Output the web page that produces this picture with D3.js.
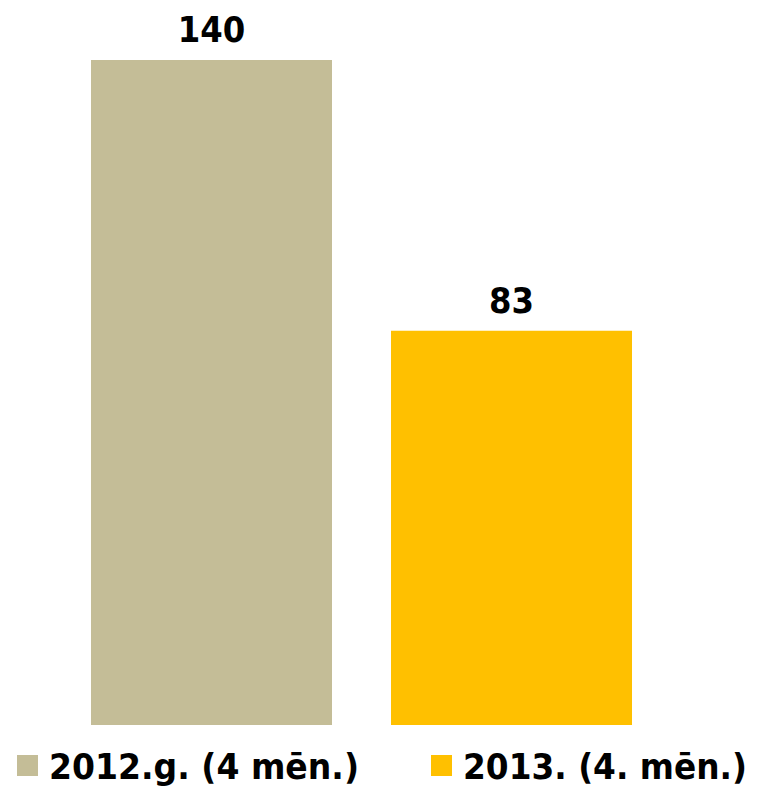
<!DOCTYPE html>
<html>
<head>
<meta charset="utf-8">
<script src="https://cdn.jsdelivr.net/npm/d3@7"></script>
<style>
    body { margin: 0; background: #fff; }
    text { font-family: "DejaVu Sans", Verdana, sans-serif; font-weight: bold; }
</style>
</head>
<body>
<div id="chart"></div>
<script>
const categories = ["2012.g. (4 mēn.)", "2013. (4. mēn.)"];
const values = [140, 83];
const colors = ["#C4BD97", "#FFC000"];

const width = 759;
const height = 788;

const svg = d3.select("#chart")
    .append("svg")
    .attr("width", width)
    .attr("height", height);

// x scale for the two bars
const xScale = d3.scaleBand()
    .domain(categories)
    .range([61.5, 661.5])
    .paddingInner(0.1967)
    .paddingOuter(0.0983);

const yScale = d3.scaleLinear()
    .domain([0, 140])
    .range([725, 60]);

// bars
svg.selectAll("rect.bar")
    .data(categories)
    .enter()
    .append("rect")
    .attr("class", "bar")
    .attr("x", d => xScale(d))
    .attr("y", (d, i) => yScale(values[i]))
    .attr("width", xScale.bandwidth())
    .attr("height", (d, i) => yScale(0) - yScale(values[i]))
    .attr("fill", (d, i) => colors[i]);

// value labels (font is a bit narrower than DejaVu in the original)
svg.selectAll("text.value")
    .data(categories)
    .enter()
    .append("text")
    .attr("class", "value")
    .attr("x", d => xScale(d) + xScale.bandwidth() / 2)
    .attr("y", (d, i) => yScale(values[i]) - 18)
    .attr("text-anchor", "middle")
    .attr("textLength", (d, i) => String(values[i]).length * 22.5)
    .attr("lengthAdjust", "spacingAndGlyphs")
    .style("font-size", "36px")
    .text((d, i) => values[i]);

// legend
const legendX = [17, 431];
const legendTextWidth = [310, 284];
const legend = svg.selectAll(".legend")
    .data(categories)
    .enter()
    .append("g")
    .attr("class", "legend")
    .attr("transform", (d, i) => `translate(${legendX[i]}, 755)`);

legend.append("rect")
    .attr("width", 21)
    .attr("height", 21)
    .attr("fill", (d, i) => colors[i]);

legend.append("text")
    .attr("x", 32)
    .attr("y", 24)
    .attr("textLength", (d, i) => legendTextWidth[i])
    .attr("lengthAdjust", "spacingAndGlyphs")
    .style("font-size", "35px")
    .text(d => d);
</script>
</body>
</html>
